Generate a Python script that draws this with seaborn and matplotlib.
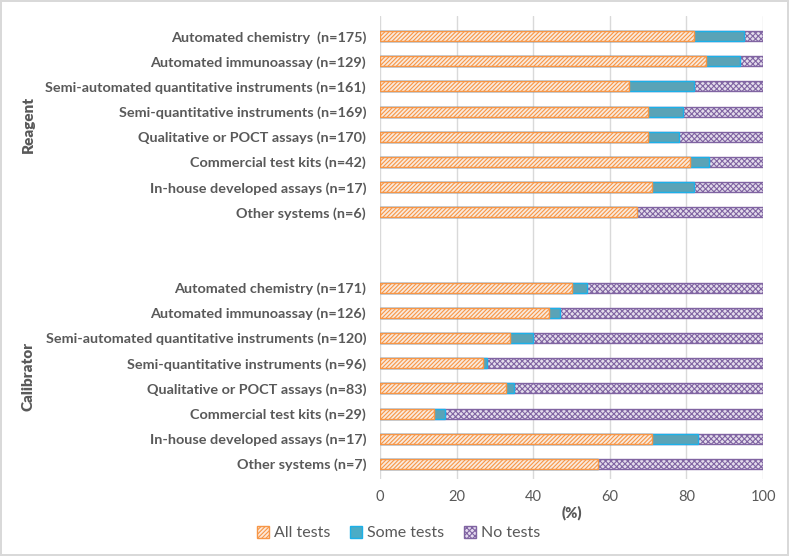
import pandas as pd
import matplotlib.pyplot as plt
from matplotlib.patches import Patch
import seaborn as sns

# 数据
reagent_labels = ['Automated chemistry  (n=175)', 'Automated immunoassay (n=129)',
                  'Semi-automated quantitative instruments (n=161)', 'Semi-quantitative instruments (n=169)',
                  'Qualitative or POCT assays (n=170)', 'Commercial test kits (n=42)',
                  'In-house developed assays (n=17)', 'Other systems (n=6)']
reagent_all = [82, 85, 65, 70, 70, 81, 71, 67]
reagent_some = [13, 9, 17, 9, 8, 5, 11, 0]
reagent_none = [5, 6, 18, 21, 22, 14, 18, 33]

calibrator_labels = ['Automated chemistry (n=171)', 'Automated immunoassay (n=126)',
                     'Semi-automated quantitative instruments (n=120)', 'Semi-quantitative instruments (n=96)',
                     'Qualitative or POCT assays (n=83)', 'Commercial test kits (n=29)',
                     'In-house developed assays (n=17)', 'Other systems (n=7)']
calibrator_all = [50, 44, 34, 27, 33, 14, 71, 57]
calibrator_some = [4, 3, 6, 1, 2, 3, 12, 0]
calibrator_none = [46, 53, 60, 72, 65, 83, 17, 43]

sns.set_style('white')
plt.rcParams['font.family'] = ['Lato', 'DejaVu Sans']
plt.rcParams['hatch.linewidth'] = 0.8

df = pd.DataFrame({
    'pos': list(range(8)) + list(range(10, 18)),
    'label': reagent_labels + calibrator_labels,
    'all': reagent_all + calibrator_all,
    'some': reagent_some + calibrator_some,
    'none': reagent_none + calibrator_none,
})
df['c_some'] = df['all'] + df['some']
df['c_none'] = df['c_some'] + df['none']

fig = plt.figure(figsize=(7.89, 5.56), dpi=100)
ax = fig.add_axes([380 / 789, 1 - 479 / 556, 383 / 789, 463 / 556])

orange = '#F79646'
blue = '#4BACC6'
purple = '#8064A2'

# 堆叠条形：先画总长，再依次覆盖
sns.barplot(data=df, x='c_none', y='pos', orient='h', native_scale=True, width=0.4,
            errorbar=None, color='#E4DAEF', edgecolor=purple, hatch='xxxxxx', linewidth=1, ax=ax)
sns.barplot(data=df, x='c_some', y='pos', orient='h', native_scale=True, width=0.4,
            errorbar=None, color=blue, edgecolor='#1CB0E8', linewidth=1, ax=ax)
sns.barplot(data=df, x='all', y='pos', orient='h', native_scale=True, width=0.4,
            errorbar=None, color='#FDE9D9', edgecolor=orange, hatch='////////', linewidth=1, ax=ax)

ax.set_ylim(17.6, -0.8)
ax.set_xlim(0, 100)
ax.set_xticks([0, 20, 40, 60, 80, 100])
ax.set_yticks(df['pos'])
ax.set_yticklabels(df['label'], fontweight='bold', fontsize=10.4, color='#595959')
ax.tick_params(axis='x', labelsize=10.5, labelcolor='#595959', length=0, pad=8)
ax.tick_params(axis='y', length=0, pad=10)
ax.set_ylabel('')
ax.set_xlabel('(%)', fontweight='heavy', fontsize=10.5, color='#595959', labelpad=1)
ax.grid(axis='x', color='#D9D9D9', linewidth=1)
ax.set_axisbelow(True)
for s in ax.spines.values():
    s.set_visible(False)

fig.text(28 / 789, 1 - 124 / 556, 'Reagent', rotation=90, ha='center', va='center',
         fontweight='heavy', fontsize=11, color='#595959')
fig.text(28 / 789, 1 - 376 / 556, 'Calibrator', rotation=90, ha='center', va='center',
         fontweight='heavy', fontsize=11, color='#595959')

handles = [Patch(facecolor='#FDE9D9', edgecolor=orange, hatch='////////', label='All tests'),
           Patch(facecolor=blue, edgecolor='#1CB0E8', label='Some tests'),
           Patch(facecolor='#E4DAEF', edgecolor=purple, hatch='xxxxxx', label='No tests')]
fig.legend(handles=handles, loc='center', bbox_to_anchor=(0.505, 1 - 533 / 556), ncol=3,
           frameon=False, fontsize=11.5, labelcolor='#595959', handlelength=0.8, handleheight=0.8,
           handletextpad=0.3, columnspacing=1.2)

fig.patch.set_edgecolor('#D9D9D9')
fig.patch.set_linewidth(1.5)

fig.savefig('out.png', dpi=100)
